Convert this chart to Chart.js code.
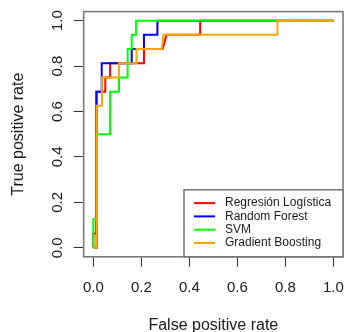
<!DOCTYPE html>
<html>
<head>
<meta charset="utf-8">
<script src="https://cdn.jsdelivr.net/npm/chart.js@4.4.1/dist/chart.umd.min.js"></script>
<style>
  html, body { margin: 0; padding: 0; background: #fff; }
  #wrap { width: 344px; height: 332px; }
</style>
</head>
<body>
<div id="wrap"><canvas id="rocChart" width="344" height="332"></canvas></div>
<script>
// ROC curves (false positive rate / true positive rate) per model
var rlFpr = [0, 0, 0.012, 0.012, 0.05, 0.05, 0.07, 0.07, 0.211, 0.211, 0.289, 0.305, 0.445, 0.445, 1];
var rlTpr = [0, 0.0625, 0.0625, 0.6875, 0.6875, 0.75, 0.75, 0.8125, 0.8125, 0.875, 0.875, 0.9375, 0.9375, 1, 1];

var rfFpr = [0, 0.014, 0.014, 0.035, 0.035, 0.16, 0.16, 0.211, 0.211, 0.267, 0.267, 1];
var rfTpr = [0, 0, 0.6875, 0.6875, 0.8125, 0.8125, 0.875, 0.875, 0.9375, 0.9375, 1, 1];

var svmFpr = [0, 0, 0.014, 0.014, 0.07, 0.07, 0.107, 0.107, 0.143, 0.143, 0.16, 0.16, 0.178, 0.178, 1];
var svmTpr = [0, 0.125, 0.125, 0.5, 0.5, 0.6875, 0.6875, 0.75, 0.75, 0.875, 0.875, 0.9375, 0.9375, 1, 1];

var gbFpr = [0, 0.014, 0.014, 0.036, 0.036, 0.107, 0.107, 0.18, 0.18, 0.285, 0.292, 0.767, 0.767, 1];
var gbTpr = [0, 0, 0.625, 0.625, 0.75, 0.75, 0.8125, 0.8125, 0.875, 0.875, 0.9375, 0.9375, 1, 1];

var tickValues = [0, 0.2, 0.4, 0.6, 0.8, 1.0];
var tickLabels = ['0.0', '0.2', '0.4', '0.6', '0.8', '1.0'];

var FONT = '"Liberation Sans", Arial, sans-serif';

function toPoints(xs, ys) {
    return xs.map(function (x, i) { return { x: x, y: ys[i] }; });
}

function makeSet(label, xs, ys, color, order) {
    return {
        label: label,
        data: toPoints(xs, ys),
        borderColor: color,
        backgroundColor: color,
        borderWidth: 2,
        showLine: true,
        pointRadius: 0,
        tension: 0,
        fill: false,
        order: order
    };
}

function fixedTicks(scale) {
    scale.ticks = tickValues.map(function (v) { return { value: v }; });
}

function tickText(value) {
    var i = tickValues.indexOf(value);
    return i >= 0 ? tickLabels[i] : '';
}

// keep the plot region at a fixed size, no extra room for overhanging labels
function noPadding(s) {
    s.paddingTop = 0;
    s.paddingBottom = 0;
    s.paddingLeft = 0;
    s.paddingRight = 0;
}

// box around the plot region plus the legend in the bottom right corner
var boxAndLegend = {
    id: 'boxAndLegend',
    afterDraw: function (chart) {
        var ctx = chart.ctx;
        var a = chart.chartArea;
        ctx.save();
        ctx.strokeStyle = '#7a7a7a';
        ctx.lineWidth = 1.6;
        ctx.strokeRect(a.left, a.top, a.right - a.left, a.bottom - a.top);

        var w = 159, h = 67;
        var lx = a.right - w, ly = a.bottom - h;
        ctx.fillStyle = '#fff';
        ctx.fillRect(lx, ly, w, h);
        ctx.strokeRect(lx, ly, w, h);

        ctx.font = '12px ' + FONT;
        ctx.textBaseline = 'middle';
        ctx.textAlign = 'left';
        chart.data.datasets.forEach(function (ds, i) {
            var y = ly + 13.3 + i * 13.3;
            ctx.strokeStyle = ds.borderColor;
            ctx.lineWidth = 2;
            ctx.beginPath();
            ctx.moveTo(lx + 10, y);
            ctx.lineTo(lx + 31, y);
            ctx.stroke();
            ctx.fillStyle = '#1a1a1a';
            ctx.fillText(ds.label, lx + 41, y);
        });
        ctx.restore();
    }
};

var ctx = document.getElementById('rocChart').getContext('2d');
window.rocChart = new Chart(ctx, {
    type: 'scatter',
    data: {
        datasets: [
            makeSet('Regresión Logística', rlFpr, rlTpr, '#ff0000', 4),
            makeSet('Random Forest', rfFpr, rfTpr, '#0000ff', 3),
            makeSet('SVM', svmFpr, svmTpr, '#00ff00', 2),
            makeSet('Gradient Boosting', gbFpr, gbTpr, '#ffa500', 1)
        ]
    },
    options: {
        responsive: false,
        animation: false,
        devicePixelRatio: 1,
        layout: { padding: { top: 11.6, right: 1, left: 0, bottom: 0 } },
        plugins: {
            legend: { display: false },
            tooltip: { enabled: false }
        },
        scales: {
            x: {
                type: 'linear',
                min: -0.04,
                max: 1.04,
                afterBuildTicks: fixedTicks,
                afterFit: function (s) { s.height = 75.2; noPadding(s); },
                grid: { drawOnChartArea: false, drawTicks: true, tickLength: 10, color: '#333', lineWidth: 1 },
                border: { display: false },
                ticks: {
                    callback: tickText,
                    color: '#1a1a1a',
                    font: { family: FONT, size: 15 },
                    padding: 12,
                    maxRotation: 0,
                    autoSkip: false
                },
                title: {
                    display: true,
                    text: 'False positive rate',
                    color: '#1a1a1a',
                    font: { family: FONT, size: 16, lineHeight: 0.75 },
                    padding: { top: 0, bottom: 0 }
                }
            },
            y: {
                type: 'linear',
                min: -0.04,
                max: 1.04,
                afterBuildTicks: fixedTicks,
                afterFit: function (s) { s.width = 83.7; noPadding(s); },
                grid: { drawOnChartArea: false, drawTicks: true, tickLength: 10, color: '#333', lineWidth: 1 },
                border: { display: false },
                ticks: {
                    callback: tickText,
                    color: '#1a1a1a',
                    font: { family: FONT, size: 15 },
                    padding: 5,
                    minRotation: 90,
                    maxRotation: 90,
                    crossAlign: 'center',
                    autoSkip: false
                },
                title: {
                    display: true,
                    text: 'True positive rate',
                    color: '#1a1a1a',
                    font: { family: FONT, size: 16, lineHeight: 1 },
                    padding: { top: 11, bottom: 0 }
                }
            }
        }
    },
    plugins: [boxAndLegend]
});
</script>
</body>
</html>
